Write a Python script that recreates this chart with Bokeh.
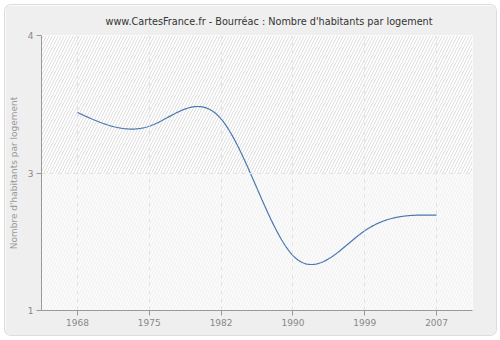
import numpy as np
from bokeh.plotting import figure
from bokeh.models import FixedTicker, Range1d
from bokeh.embed import file_html
from bokeh.resources import INLINE

years = ["1968", "1975", "1982", "1990", "1999", "2007"]
values = [3.16, 3.01, 3.09, 1.60, 1.87, 2.04]
y_ticks = [1, 2.5, 4]
y_tick_labels = ["1", "3", "4"]


def natural_spline(xs, ys, n=400):
    xs = np.asarray(xs, float)
    ys = np.asarray(ys, float)
    m = len(xs)
    h = np.diff(xs)
    A = np.zeros((m, m))
    b = np.zeros(m)
    A[0, 0] = 1
    A[-1, -1] = 1
    for i in range(1, m - 1):
        A[i, i - 1] = h[i - 1]
        A[i, i] = 2 * (h[i - 1] + h[i])
        A[i, i + 1] = h[i]
        b[i] = 6 * ((ys[i + 1] - ys[i]) / h[i] - (ys[i] - ys[i - 1]) / h[i - 1])
    M = np.linalg.solve(A, b)
    xx = np.linspace(xs[0], xs[-1], n)
    yy = np.empty_like(xx)
    for k, x in enumerate(xx):
        i = min(np.searchsorted(xs, x, side="right") - 1, m - 2)
        t0 = xs[i + 1] - x
        t1 = x - xs[i]
        yy[k] = (M[i] * t0 ** 3 / (6 * h[i]) + M[i + 1] * t1 ** 3 / (6 * h[i])
                 + (ys[i] / h[i] - M[i] * h[i] / 6) * t0
                 + (ys[i + 1] / h[i] - M[i + 1] * h[i] / 6) * t1)
    return xx, yy


idx = list(range(len(years)))
cx, cy = natural_spline(idx, values)

p = figure(width=490, height=330, output_backend="svg", toolbar_location=None,
           x_range=Range1d(-0.5, len(years) - 0.5), y_range=Range1d(1, 4),
           min_border_left=35, min_border_right=24, min_border_top=30, min_border_bottom=25)
p.frame_width = 431
p.frame_height = 275
p.styles = {"margin": "5px", "border-radius": "6px", "overflow": "hidden",
            "box-shadow": "0 0 0 1px #dcdcdc"}

p.border_fill_color = "#efefef"
p.background_fill_color = "#ffffff"
p.outline_line_color = None

# bands
p.quad(left=-0.5, right=len(years) - 0.5, bottom=y_ticks[1], top=y_ticks[2],
       fill_color="#ffffff", line_color=None,
       hatch_pattern="/", hatch_color="#dedede", hatch_scale=6, hatch_weight=1)
p.quad(left=-0.5, right=len(years) - 0.5, bottom=y_ticks[0], top=y_ticks[1],
       fill_color="#fbfbfb", line_color=None,
       hatch_pattern="/", hatch_color="#f0f0f0", hatch_scale=6, hatch_weight=1)

p.line(cx, cy, line_color="#4a78b0", line_width=1.2)

p.title.text = "www.CartesFrance.fr - Bourréac : Nombre d'habitants par logement"
p.title.align = "left"
p.title.offset = 64
p.title.text_font = "DejaVu Sans"
p.title.text_font_size = "9.7px"
p.title.text_font_style = "normal"
p.title.text_color = "#333333"
p.title.text_line_height = 0.9
p.title.standoff = 17

p.xaxis.ticker = FixedTicker(ticks=idx)
p.xaxis.major_label_overrides = {i: y for i, y in enumerate(years)}
p.yaxis.ticker = FixedTicker(ticks=y_ticks)
p.yaxis.major_label_overrides = {t: l for t, l in zip(y_ticks, y_tick_labels)}
p.yaxis.axis_label = "Nombre d'habitants par logement"

for ax in (p.xaxis[0], p.yaxis[0]):
    ax.axis_line_color = "#999999"
    ax.major_tick_line_color = "#999999"
    ax.major_tick_out = 5
    ax.major_tick_in = 0
    ax.minor_tick_line_color = None
    ax.major_label_text_font = "DejaVu Sans"
    ax.major_label_text_font_size = "9px"
    ax.major_label_text_color = "#888888"
    ax.major_label_standoff = 3
    ax.axis_label_text_font = "DejaVu Sans"
    ax.axis_label_text_font_size = "9px"
    ax.axis_label_text_font_style = "normal"
    ax.axis_label_text_color = "#999999"
    ax.axis_label_standoff = 6

p.xgrid.ticker = FixedTicker(ticks=idx)
p.ygrid.ticker = FixedTicker(ticks=y_ticks)
for g in (p.xgrid[0], p.ygrid[0]):
    g.grid_line_color = "#e2e2e2"
    g.grid_line_dash = "4 4"
    g.grid_line_width = 1
    g.level = "glyph"

open("out.html", "w").write(file_html(p, INLINE))
